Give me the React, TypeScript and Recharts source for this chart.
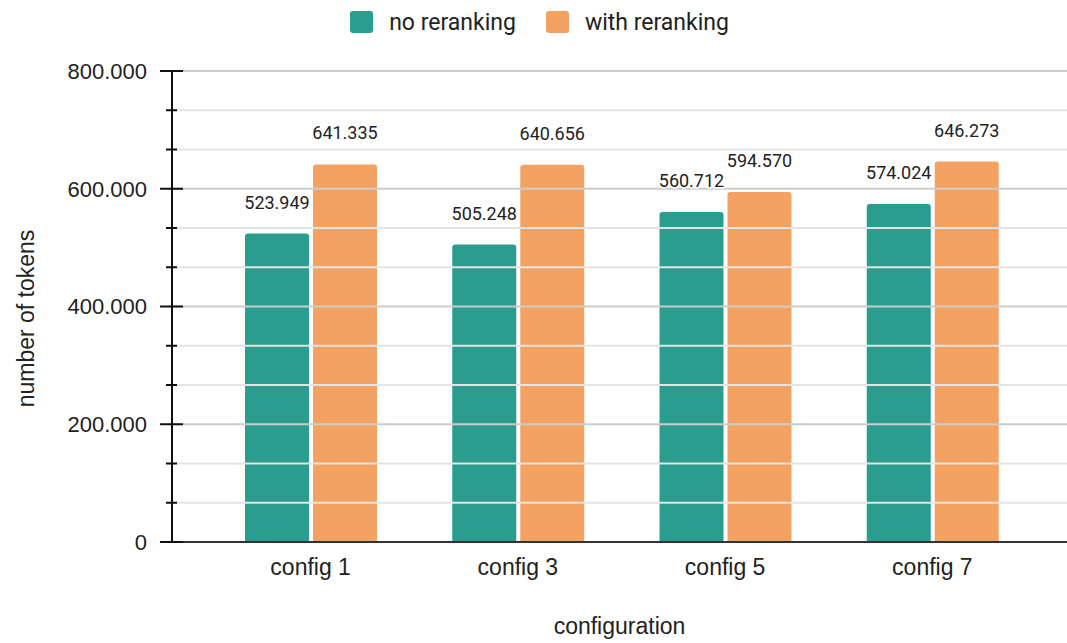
import React from 'react';
import {
  BarChart,
  Bar,
  XAxis,
  YAxis,
  Legend,
  LabelList,
  ReferenceLine,
} from 'recharts';

// Token counts per retrieval configuration
const configs = ['config 1', 'config 3', 'config 5', 'config 7'];
const noReranking = [523949, 505248, 560712, 574024];
const withReranking = [641335, 640656, 594570, 646273];

// Y axis: labelled every 200.000, with two unlabelled minor ticks between
const majorStep = 200000;
const yMax = 800000;
const yTicks = [
  0, 66666.67, 133333.33, 200000, 266666.67, 333333.33, 400000,
  466666.67, 533333.33, 600000, 666666.67, 733333.33, 800000,
];

const seriesNames = { noRerank: 'no reranking', withRerank: 'with reranking' };
const colors = { noRerank: '#2a9d8f', withRerank: '#f4a261' };

const data = configs.map((name, i) => ({
  name,
  noRerank: noReranking[i],
  withRerank: withReranking[i],
}));

const AXIS_FONT = '"Liberation Sans", Arial, sans-serif';
const LABEL_FONT = 'Roboto, "Noto Sans", sans-serif';

// European-style thousands separator: 523949 -> "523.949"
const fmt = (v: number) =>
  String(Math.round(v)).replace(/\B(?=(\d{3})+(?!\d))/g, '.');

const isMajor = (v: number) =>
  Math.abs(v / majorStep - Math.round(v / majorStep)) < 1e-4;

const YTick = (props: any) => {
  const { x, y, payload } = props;
  const major = isMajor(payload.value);
  return (
    <g>
      <line
        x1={major ? x - 12 : x - 6}
        x2={major ? x + 11 : x + 5}
        y1={y}
        y2={y}
        stroke="#111"
        strokeWidth={2}
      />
      {major && (
        <text
          x={x - 25}
          y={y}
          dy="0.36em"
          textAnchor="end"
          fill="#222"
          fontSize={22}
          fontFamily={AXIS_FONT}
        >
          {fmt(payload.value)}
        </text>
      )}
    </g>
  );
};

const YTitle = (props: any) => {
  const { viewBox } = props;
  const cx = viewBox.x + 34;
  const cy = viewBox.y + viewBox.height / 2 + 12;
  return (
    <text
      x={cx}
      y={cy}
      transform={`rotate(-90 ${cx} ${cy})`}
      textAnchor="middle"
      fill="#222"
      fontSize={23}
      fontFamily={AXIS_FONT}
    >
      number of tokens
    </text>
  );
};

const XTitle = (props: any) => {
  const { viewBox } = props;
  const cx = viewBox.x + viewBox.width / 2;
  return (
    <text
      x={cx}
      y={634}
      textAnchor="middle"
      fill="#222"
      fontSize={23}
      fontFamily={AXIS_FONT}
    >
      configuration
    </text>
  );
};

const LegendContent = () => (
  <div
    style={{
      display: 'flex',
      justifyContent: 'center',
      alignItems: 'center',
      height: 44,
      paddingLeft: 42,
      fontFamily: LABEL_FONT,
      fontSize: 23,
      color: '#222',
    }}
  >
    {(['noRerank', 'withRerank'] as const).map((key) => (
      <div
        key={key}
        style={{ display: 'flex', alignItems: 'center', marginRight: 30 }}
      >
        <span
          style={{
            width: 23,
            height: 22,
            borderRadius: 3,
            background: colors[key],
            marginRight: 16,
            display: 'inline-block',
          }}
        />
        <span>{seriesNames[key]}</span>
      </div>
    ))}
  </div>
);

const labelStyle = {
  fill: '#222',
  fontSize: 18,
  fontFamily: LABEL_FONT,
  stroke: '#fff',
  strokeWidth: 3,
  paintOrder: 'stroke',
} as const;

export default function App() {
  return (
    <div style={{ position: 'absolute', left: 0, top: 0, background: '#fff' }}>
      <BarChart
        width={1067}
        height={643}
        data={data}
        margin={{ top: 27, right: 0, bottom: 0, left: 0 }}
        barSize={64}
        barGap={4}
      >
        <Legend
          verticalAlign="top"
          align="center"
          height={44}
          wrapperStyle={{ top: 0, left: 0, width: 1067 }}
          content={<LegendContent />}
        />
        {yTicks
          .filter((t) => t > 0)
          .map((t) => (
            <ReferenceLine
              key={t}
              y={t}
              stroke={isMajor(t) ? '#cccccc' : '#e4e4e4'}
              strokeWidth={2}
              ifOverflow="extendDomain"
            />
          ))}
        <XAxis
          dataKey="name"
          height={101}
          tickLine={false}
          tickSize={0}
          tickMargin={17}
          padding={{ left: 35, right: 31 }}
          axisLine={{ stroke: '#333', strokeWidth: 2 }}
          tick={{ fill: '#222', fontSize: 23, fontFamily: AXIS_FONT }}
          label={<XTitle />}
        />
        <YAxis
          width={172}
          domain={[0, yMax]}
          ticks={yTicks}
          interval={0}
          tickLine={false}
          tickSize={0}
          tickMargin={0}
          axisLine={{ stroke: '#111', strokeWidth: 2 }}
          tick={<YTick />}
          label={<YTitle />}
        />
        <Bar
          dataKey="noRerank"
          name={seriesNames.noRerank}
          fill={colors.noRerank}
          radius={[3, 3, 0, 0]}
          isAnimationActive={false}
        >
          <LabelList
            dataKey="noRerank"
            position="top"
            offset={25}
            formatter={(v: any) => fmt(Number(v))}
            style={labelStyle}
          />
        </Bar>
        <Bar
          dataKey="withRerank"
          name={seriesNames.withRerank}
          fill={colors.withRerank}
          radius={[3, 3, 0, 0]}
          isAnimationActive={false}
        >
          <LabelList
            dataKey="withRerank"
            position="top"
            offset={25}
            formatter={(v: any) => fmt(Number(v))}
            style={labelStyle}
          />
        </Bar>
      </BarChart>
    </div>
  );
}
